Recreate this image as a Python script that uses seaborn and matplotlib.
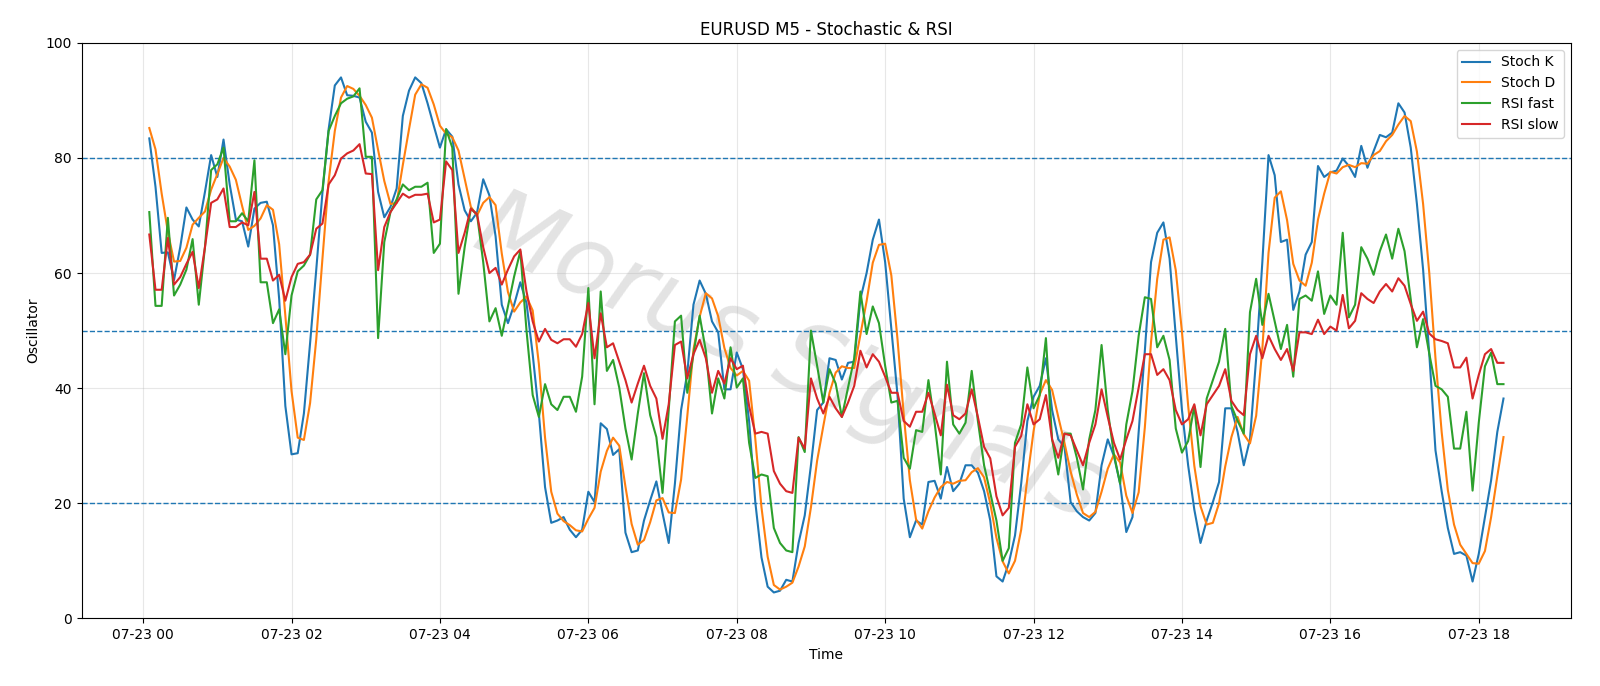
import pandas as pd
import seaborn as sns
import matplotlib
matplotlib.use('Agg')
import matplotlib.pyplot as plt
import matplotlib.dates as mdates

# 5-minute bars, 07-23 00:05 -> 18:20
start_time = '2025-07-23 00:05'
n_bars = 220

stoch_k = [
    83.4, 75.0, 63.5, 63.6, 58.8, 64.5, 71.4, 69.3, 68.1, 74.1,
    80.5, 76.7, 83.2, 75.4, 69.3, 69.0, 64.6, 71.2, 72.2, 72.4,
    68.3, 55.5, 36.9, 28.5, 28.7, 35.6, 47.8, 60.6, 74.0, 85.0,
    92.6, 94.0, 90.9, 90.8, 90.5, 86.3, 84.4, 74.1, 69.7, 71.5,
    74.7, 87.3, 91.7, 94.0, 93.0, 89.5, 85.6, 81.8, 85.0, 83.7,
    75.4, 70.9, 69.0, 70.5, 76.3, 73.5, 66.4, 54.5, 51.3, 54.5,
    58.4, 54.8, 45.9, 35.6, 22.8, 16.6, 17.0, 17.6, 15.4, 14.1,
    15.4, 22.0, 20.2, 33.9, 32.9, 28.4, 29.4, 14.9, 11.5, 11.8,
    17.0, 20.5, 23.8, 18.3, 13.1, 23.4, 36.2, 42.6, 54.5, 58.7,
    56.4, 51.6, 49.7, 39.8, 39.8, 46.2, 43.3, 34.3, 20.2, 10.6,
    5.5, 4.5, 4.8, 6.7, 6.4, 13.1, 17.9, 26.6, 36.2, 37.5,
    45.2, 44.9, 41.5, 44.4, 44.6, 55.5, 60.0, 65.8, 69.3, 61.9,
    50.4, 38.8, 20.8, 14.1, 17.0, 16.3, 23.7, 23.9, 20.8, 26.3,
    22.1, 23.4, 26.6, 26.6, 25.3, 22.1, 17.0, 7.3, 6.4, 9.6,
    14.4, 23.4, 34.3, 38.5, 40.4, 45.2, 36.2, 31.1, 29.8, 20.2,
    18.6, 17.6, 17.0, 18.3, 26.6, 31.1, 28.2, 23.4, 15.0, 17.6,
    32.4, 46.5, 61.9, 67.0, 68.8, 62.5, 49.1, 36.2, 26.6, 18.9,
    13.1, 17.0, 20.2, 23.7, 36.5, 36.5, 32.4, 26.6, 31.1, 45.2,
    61.9, 80.5, 77.0, 65.4, 65.8, 53.6, 56.8, 63.2, 65.4, 78.6,
    76.7, 77.5, 77.8, 79.9, 78.6, 76.7, 82.1, 78.3, 81.2, 84.0,
    83.6, 84.4, 89.5, 87.9, 81.8, 72.0, 60.6, 45.9, 29.2, 22.1,
    15.7, 11.2, 11.5, 10.9, 6.4, 11.2, 17.6, 24.0, 32.4, 38.2,
]

stoch_d = [
    85.2, 81.5, 73.8, 67.2, 62.0, 62.1, 64.4, 68.4, 69.6, 70.7,
    74.5, 77.2, 80.0, 78.5, 76.2, 71.7, 67.5, 68.2, 69.5, 71.8,
    71.0, 65.0, 52.6, 39.5, 31.4, 31.0, 37.4, 48.5, 62.5, 76.0,
    84.7, 90.5, 92.5, 92.0, 90.8, 89.2, 87.0, 81.4, 76.0, 72.0,
    72.2, 78.8, 85.0, 91.0, 92.8, 92.2, 89.3, 85.6, 84.2, 83.6,
    81.3, 76.4, 71.5, 70.0, 72.2, 73.2, 71.8, 63.4, 56.7, 53.3,
    54.9, 55.9, 53.5, 44.2, 31.4, 22.0, 18.2, 16.9, 16.2, 15.3,
    15.1, 17.3, 19.2, 25.5, 29.1, 31.4, 30.0, 22.9, 16.4, 12.8,
    13.6, 16.7, 20.5, 20.9, 18.4, 18.3, 24.1, 35.1, 46.7, 52.4,
    56.5, 55.6, 52.5, 47.0, 43.5, 42.2, 43.0, 41.3, 31.2, 19.3,
    10.7, 5.8, 5.0, 5.5, 6.2, 9.0, 12.5, 19.3, 27.4, 33.4,
    39.2, 42.7, 43.8, 43.5, 43.5, 49.3, 55.1, 61.8, 64.9, 65.1,
    59.6, 48.5, 35.5, 24.0, 17.2, 15.6, 18.6, 21.0, 22.8, 23.7,
    23.4, 23.9, 24.0, 25.4, 26.1, 24.5, 20.0, 14.0, 9.9, 7.8,
    10.0, 15.4, 24.3, 32.5, 38.9, 41.4, 39.7, 35.0, 30.5, 25.5,
    21.5, 18.3, 17.6, 18.5, 22.0, 26.0, 28.5, 27.1, 21.3, 18.3,
    21.9, 33.2, 48.0, 59.0, 65.8, 66.2, 60.5, 49.8, 37.0, 26.5,
    19.5, 16.3, 16.6, 20.0, 26.4, 31.5, 35.0, 32.0, 30.4, 35.2,
    46.8, 63.5, 73.1, 74.2, 69.2, 61.6, 58.7, 57.8, 61.8, 69.3,
    73.8, 77.6, 77.3, 78.4, 78.8, 78.4, 79.1, 79.0, 80.5, 81.2,
    82.9, 84.0, 85.8, 87.3, 86.4, 81.1, 72.0, 60.0, 45.2, 32.4,
    22.3, 16.3, 12.8, 11.2, 9.6, 9.5, 11.7, 17.6, 24.7, 31.5,
]

rsi_fast = [
    70.6, 54.3, 54.3, 69.6, 56.1, 58.0, 60.6, 65.9, 54.5, 64.5,
    77.9, 78.9, 81.8, 69.0, 69.0, 70.4, 69.0, 79.6, 58.4, 58.4,
    51.3, 53.7, 45.9, 56.1, 60.3, 61.3, 63.2, 72.8, 74.4, 84.7,
    87.3, 89.5, 90.3, 90.7, 92.1, 80.2, 80.2, 48.7, 65.4, 70.6,
    72.8, 75.4, 74.4, 75.0, 75.0, 75.7, 63.5, 65.1, 85.0, 81.8,
    56.4, 64.5, 71.2, 70.2, 61.9, 51.6, 53.9, 49.1, 54.2, 59.4,
    63.8, 50.0, 38.8, 35.0, 40.7, 37.2, 36.2, 38.5, 38.5, 35.9,
    42.0, 57.4, 37.2, 56.8, 43.0, 44.9, 40.1, 33.0, 27.6, 35.6,
    42.6, 35.3, 31.5, 21.8, 36.2, 51.6, 52.6, 39.2, 45.9, 52.6,
    46.5, 35.6, 41.7, 38.2, 47.1, 40.1, 41.7, 30.5, 24.4, 25.0,
    24.7, 15.7, 13.1, 11.8, 11.5, 31.5, 28.9, 50.0, 43.9, 37.5,
    43.3, 40.8, 35.0, 40.1, 45.2, 56.8, 49.4, 54.2, 51.3, 43.9,
    37.5, 37.8, 27.9, 26.0, 32.7, 32.4, 41.4, 34.0, 25.0, 44.6,
    33.7, 32.1, 34.0, 43.0, 34.3, 26.6, 21.8, 17.0, 10.0, 12.2,
    30.5, 33.7, 43.6, 36.5, 38.8, 48.7, 31.1, 25.0, 32.1, 32.1,
    27.9, 22.4, 31.1, 36.2, 47.5, 36.2, 28.5, 23.4, 33.7, 39.5,
    49.1, 55.8, 55.5, 47.1, 49.1, 44.9, 33.0, 28.8, 30.8, 36.9,
    26.3, 38.2, 41.4, 44.6, 50.3, 36.9, 34.3, 32.1, 53.2, 59.0,
    51.0, 56.4, 51.6, 46.8, 51.0, 42.0, 55.5, 56.1, 55.2, 60.3,
    52.9, 56.1, 54.5, 67.0, 52.3, 54.5, 64.5, 62.5, 59.7, 63.8,
    66.7, 62.5, 67.7, 63.8, 55.5, 47.1, 52.0, 46.0, 40.4, 39.8,
    38.5, 29.5, 29.5, 35.9, 22.2, 34.0, 43.8, 46.2, 40.7, 40.7,
]

rsi_slow = [
    66.7, 57.1, 57.1, 66.1, 58.0, 59.3, 61.6, 63.7, 57.4, 64.5,
    72.2, 72.8, 74.7, 68.0, 68.0, 68.8, 68.3, 74.1, 62.5, 62.5,
    58.7, 59.7, 55.2, 59.3, 61.6, 61.9, 63.2, 67.7, 68.6, 75.4,
    77.0, 79.9, 80.8, 81.3, 82.4, 77.3, 77.2, 60.5, 68.0, 70.6,
    72.2, 73.8, 73.1, 73.6, 73.6, 73.8, 68.8, 69.3, 79.4, 77.9,
    63.5, 67.0, 71.2, 70.2, 64.5, 60.0, 60.9, 58.0, 60.6, 62.9,
    64.1, 56.8, 51.6, 48.1, 50.3, 48.4, 47.8, 48.5, 48.5, 47.2,
    49.4, 54.8, 45.2, 53.0, 47.1, 47.8, 44.6, 41.4, 37.5, 40.8,
    43.9, 40.4, 38.2, 31.2, 37.2, 47.5, 48.1, 41.7, 45.9, 48.4,
    45.2, 39.2, 43.0, 40.8, 45.2, 43.3, 43.9, 36.9, 32.1, 32.4,
    32.1, 25.6, 23.4, 22.1, 21.8, 31.4, 29.5, 41.7, 38.2, 35.6,
    38.5, 36.5, 35.0, 37.5, 40.4, 46.5, 43.6, 45.9, 44.6, 42.0,
    39.2, 39.2, 34.3, 33.3, 35.9, 35.9, 39.2, 35.6, 31.8, 40.6,
    35.3, 34.6, 35.6, 39.8, 35.0, 29.8, 27.8, 21.2, 17.9, 19.2,
    29.8, 31.7, 37.2, 33.7, 34.6, 38.8, 31.1, 27.9, 32.1, 31.8,
    29.2, 26.6, 30.5, 33.7, 39.8, 35.0, 30.5, 27.6, 31.1, 34.3,
    40.1, 45.9, 45.9, 42.3, 43.3, 41.4, 36.2, 33.7, 34.6, 37.2,
    31.8, 37.2, 38.8, 40.4, 43.3, 37.8, 36.2, 35.3, 45.9, 49.1,
    45.2, 49.1, 46.8, 44.9, 46.8, 43.0, 49.7, 49.7, 49.4, 51.9,
    49.4, 50.7, 50.0, 56.2, 50.4, 51.7, 56.5, 55.5, 54.8, 56.8,
    58.1, 56.8, 59.1, 57.8, 54.6, 51.7, 53.3, 49.5, 48.5, 48.2,
    47.8, 43.6, 43.6, 45.3, 38.2, 42.3, 45.9, 46.8, 44.4, 44.4,
]

levels = [20, 50, 80]

times = pd.date_range(start_time, periods=n_bars, freq='5min')
df = pd.DataFrame({'Time': times,
                   'Stoch K': stoch_k, 'Stoch D': stoch_d,
                   'RSI fast': rsi_fast, 'RSI slow': rsi_slow})
long_df = df.melt(id_vars='Time', var_name='series', value_name='Oscillator')

fig, ax = plt.subplots(figsize=(16, 6.86), dpi=100)
fig.subplots_adjust(left=0.051, right=0.982, top=0.9375, bottom=0.0986)

sns.lineplot(data=long_df, x='Time', y='Oscillator', hue='series',
             palette=['tab:blue', 'tab:orange', 'tab:green', 'tab:red'],
             linewidth=1.5, ax=ax, zorder=3)

for lvl in levels:
    ax.axhline(lvl, color='tab:blue', linestyle='--', linewidth=1)

ax.set_ylim(0, 100)
ax.xaxis.set_major_locator(mdates.HourLocator(byhour=range(0, 24, 2)))
ax.xaxis.set_major_formatter(mdates.DateFormatter('%m-%d %H'))
ax.grid(True, alpha=0.3)
ax.set_title('EURUSD M5 - Stochastic & RSI')
ax.set_xlabel('Time')
ax.set_ylabel('Oscillator')
ax.legend(loc='upper right')

# faint watermark behind the lines
ax.text(0.475, 0.45, 'Morus Signals', transform=ax.transAxes,
        fontsize=70, style='italic', color='#808080', alpha=0.22,
        rotation=-24, ha='center', va='center', zorder=1)

fig.savefig('out.png', dpi=100)
